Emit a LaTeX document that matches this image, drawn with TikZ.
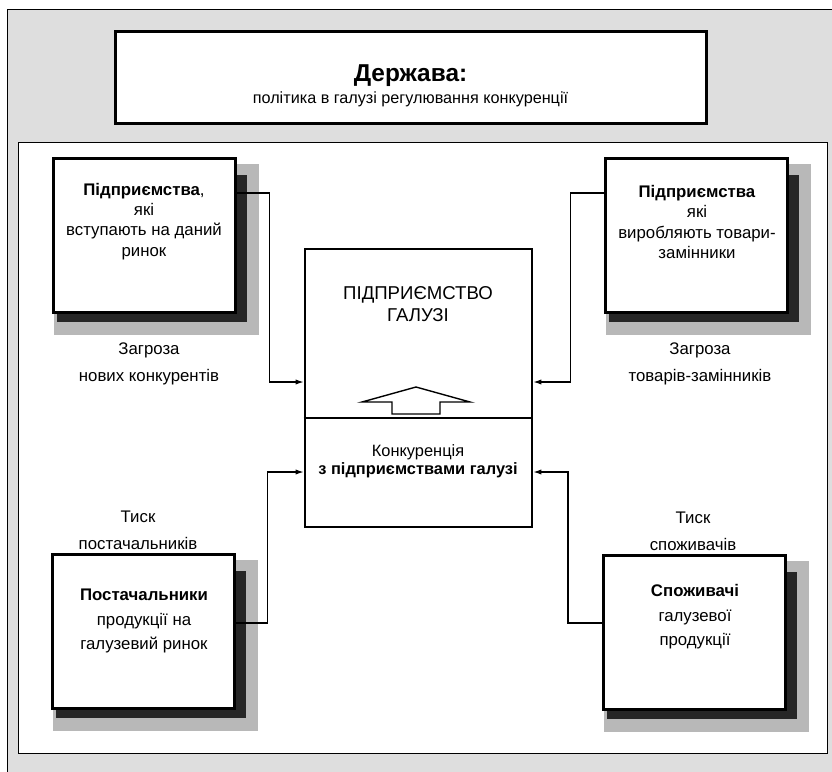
\documentclass[tikz,border=0pt]{standalone}
\usepackage{fontspec}
\setmainfont{Liberation Sans}
\usepackage{tikz}
\usetikzlibrary{positioning,arrows.meta,backgrounds}

\begin{document}
\begin{tikzpicture}[x=0.5pt, y=-0.5pt,
  firm/.style={draw, line width=1.5pt, fill=white, minimum width=91pt, minimum height=77pt},
  txt/.style={align=center, inner sep=0pt, font=\fontsize{8.4}{10.1}\selectfont},
  txtwide/.style={txt, font=\fontsize{8.4}{12.3}\selectfont},
  lbl/.style={align=center, inner sep=0pt, font=\fontsize{8.4}{13.6}\selectfont},
  link/.style={-{Latex[length=4pt,width=2.6pt]}, line width=0.55pt}
]
\useasboundingbox (0,0) rectangle (832,772);

% Background and panel
\begin{scope}[on background layer]
\fill[black!13] (7,9) rectangle (832,772);
\draw[line width=0.5pt] (7,772) -- (7,9) -- (832,9);
\draw[line width=0.5pt, fill=white] (18,142) rectangle (827,753);
\end{scope}

% State
\node[draw, line width=1.5pt, fill=white, minimum width=295.5pt, minimum height=46pt] (state) at (410.5,77) {};
\node[inner sep=0pt, font=\fontsize{12.2}{14}\selectfont\bfseries] (stateT) at (410.5,76) {Держава:};
\node[inner sep=0pt, font=\fontsize{8.1}{9}\selectfont] (stateS) at (410.5,99) {політика в галузі регулювання конкуренції};

% Industry firms
\node[draw, line width=1.4pt, fill=white, minimum width=113.5pt, minimum height=139pt] (core) at (418.5,388) {};
\draw[line width=1pt] (core.west |- 0,418) -- (core.east |- 0,418);
\node[align=center, inner sep=0pt, font=\fontsize{9.3}{11}\selectfont] (coreT) at (418,304) {ПІДПРИЄМСТВО\\ГАЛУЗІ};
\node[txt, font=\fontsize{8.2}{9.2}\selectfont] (coreB) at (418,461) {Конкуренція\\\textbf{з підприємствами галузі}};
\draw[line width=0.7pt, line join=miter] (392,414) -- (392,402) -- (362,402) -- (416,387) -- (470,402) -- (440,402) -- (440,414) -- cycle;

% Four forces
\node[firm] (entrants) at (144,235) {};
\node[txt] (entrantsT) at (144,221.5) {\textbf{Підприємства},\\які\\вступають на даний\\ринок};
\node[firm] (substit) at (696,235.5) {};
\node[txt] (substitT) at (697,222) {\textbf{Підприємства}\\які\\виробляють товари-\\замінники};
\node[firm] (suppliers) at (143,631.5) {};
\node[txtwide] (suppliersT) at (144,621) {\textbf{Постачальники}\\продукції на\\галузевий ринок};
\node[firm] (buyers) at (694.5,632) {};
\node[txtwide] (buyersT) at (695,617) {\textbf{Споживачі}\\галузевої\\продукції};

% Shadows
\begin{scope}[on background layer]
\foreach \b in {entrants,substit,suppliers,buyers} {
  \fill[black!28] ([xshift=1pt,yshift=-3.5pt]\b.north west) rectangle ([xshift=11pt,yshift=-10.5pt]\b.south east);
  \fill[black!85] ([xshift=2.5pt,yshift=-9pt]\b.north west) rectangle ([xshift=5pt,yshift=-4pt]\b.south east);
}
\end{scope}

% Labels
\node[lbl] (threatE) at (149,363.5) {Загроза\\нових конкурентів};
\node[lbl] (threatS) at (700,363.5) {Загроза\\товарів-замінників};
\node[lbl] (pressS) at (138,530) {Тиск\\постачальників};
\node[lbl] (pressB) at (693,531.5) {Тиск\\споживачів};

% Connectors
\draw[link] (entrants.east |- 0,193) -- ++(33,0) |- (core.west |- 0,382);
\draw[link] (substit.west |- 0,193) -- ++(-33,0) |- (core.east |- 0,382);
\draw[link] (suppliers.east |- 0,623) -- ++(32,0) |- (core.west |- 0,472);
\draw[link] (buyers.west |- 0,623) -- ++(-34,0) |- (core.east |- 0,472);

\end{tikzpicture}
\end{document}
